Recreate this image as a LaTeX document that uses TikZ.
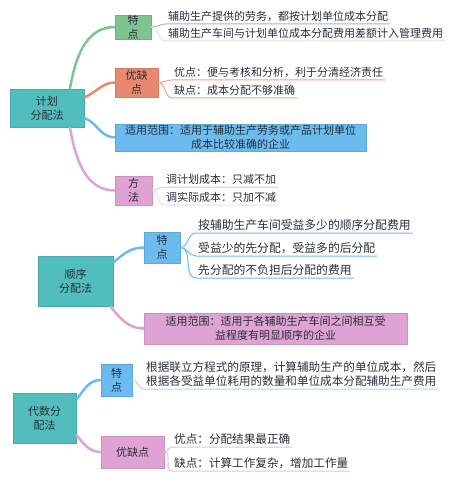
\documentclass[tikz,border=0pt]{standalone}
\usepackage{fontspec}
\setmainfont{Noto Sans CJK SC}
\usepackage{tikz}
\usetikzlibrary{positioning}

\definecolor{rootcol}{HTML}{52BDBD}
\definecolor{greencol}{HTML}{7EC48E}
\definecolor{salmoncol}{HTML}{E8896F}
\definecolor{bluecol}{HTML}{6BBBEE}
\definecolor{pinkcol}{HTML}{DEA3D2}
\definecolor{txtcol}{HTML}{2A2F3A}

\begin{document}
\begin{tikzpicture}[x=1pt, y=-1pt, text=txtcol, font=\fontsize{11}{14}\selectfont,
  root/.style={rectangle, draw=rootcol!90!black, line width=0.4pt, fill=rootcol, align=center, inner sep=0pt},
  sub/.style={rectangle, draw=#1!90!black, line width=0.4pt, fill=#1, align=center, inner sep=0pt},
  leaf/.style={anchor=south west, inner xsep=2pt, inner ysep=2.5pt, align=left},
  branch/.style={draw=#1, line width=2.5pt},
  twig/.style={draw=#1, line width=1pt}]

  \useasboundingbox (0,0) rectangle (449,486);

  % 计划分配法
  \node [root, minimum width=74pt, minimum height=38pt] (plan) at (47,108) {计划\\分配法};
  \node [sub=greencol, minimum width=36pt, minimum height=24pt] (planfeat) at (133,27) {特\\点};
  \node [sub=salmoncol, minimum width=43pt, minimum height=29pt] (planpro) at (136.5,82.5) {优缺\\点};
  \node [sub=bluecol, minimum width=251pt, minimum height=27pt] (planscope) at (240.5,137.5) {适用范围：适用于辅助生产劳务或产品计划单位\\成本比较准确的企业};
  \node [sub=pinkcol, minimum width=37pt, minimum height=29pt] (planway) at (133.5,190.5) {方\\法};

  \node [leaf] (pf1) at (166,24) {辅助生产提供的劳务，都按计划单位成本分配};
  \node [leaf] (pf2) at (166,41) {辅助生产车间与计划单位成本分配费用差额计入管理费用};
  \node [leaf] (pp1) at (172,80) {优点：便与考核和分析，利于分清经济责任};
  \node [leaf] (pp2) at (172,98) {缺点：成本分配不够准确};
  \node [leaf] (pw1) at (164,187) {调计划成本：只减不加};
  \node [leaf] (pw2) at (164,205) {调实际成本：只加不减};

  \path [branch=greencol] (plan.40) to[out=80, in=180] (planfeat.west);
  \path [branch=salmoncol] (plan.16) to[out=20, in=180] (planpro.west);
  \path [branch=bluecol] (plan.-15) to[out=-20, in=180] (planscope.west);
  \path [branch=pinkcol] (plan.-40) to[out=-80, in=180] (planway.west);

  \path [twig=greencol!90] (planfeat.east) to[out=0, in=180] (pf1.south west) -- (pf1.south east);
  \path [twig=greencol!35] (planfeat.east) to[out=0, in=180] (pf2.south west) -- (pf2.south east);
  \path [twig=salmoncol!80] (planpro.east) to[out=0, in=180] (pp1.south west) -- (pp1.south east);
  \path [twig=salmoncol!80] (planpro.east) to[out=0, in=180] (pp2.south west) -- (pp2.south east);
  \path [twig=pinkcol!70] (planway.east) to[out=0, in=180] (pw1.south west) -- (pw1.south east);
  \path [twig=pinkcol!40] (planway.east) to[out=0, in=180] (pw2.south west) -- (pw2.south east);

  % 顺序分配法
  \node [root, minimum width=75pt, minimum height=50pt] (order) at (75.5,281) {顺序\\分配法};
  \node [sub=bluecol, minimum width=36pt, minimum height=31pt] (orderfeat) at (162,247.5) {特\\点};
  \node [sub=pinkcol, minimum width=263pt, minimum height=31pt] (orderscope) at (275.5,328.5) {适用范围：适用于各辅助生产车间之间相互受\\益程度有明显顺序的企业};

  \node [leaf, font=\fontsize{11.8}{14}\selectfont] (of1) at (196,233) {按辅助生产车间受益多少的顺序分配费用};
  \node [leaf, font=\fontsize{11.8}{14}\selectfont] (of2) at (196,256) {受益少的先分配，受益多的后分配};
  \node [leaf, font=\fontsize{11.8}{14}\selectfont] (of3) at (196,278) {先分配的不负担后分配的费用};

  \path [branch=bluecol] (order.26) to[out=40, in=180] (orderfeat.west);
  \path [branch=pinkcol] (order.-36) to[out=-50, in=180] (orderscope.west);

  \path [twig=bluecol] (orderfeat.east) to[out=0, in=180] (of1.south west) -- (of1.south east);
  \path [twig=bluecol] (orderfeat.east) to[out=0, in=180] (of2.south west) -- (of2.south east);
  \path [twig=bluecol] (orderfeat.east) to[out=0, in=180] (of3.south west) -- (of3.south east);

  % 代数分配法
  \node [root, minimum width=63pt, minimum height=50pt] (alg) at (44.5,418) {代数分\\配法};
  \node [sub=bluecol, minimum width=31pt, minimum height=32pt] (algfeat) at (116.5,380) {特\\点};
  \node [sub=pinkcol, minimum width=63pt, minimum height=32pt] (algpro) at (132.5,452) {优缺点};

  \node [leaf, font=\fontsize{11.6}{13.5}\selectfont] (af1) at (144,389) {根据联立方程式的原理，计算辅助生产的单位成本，然后\\根据各受益单位耗用的数量和单位成本分配辅助生产费用};
  \node [leaf, font=\fontsize{11.6}{14}\selectfont] (ap1) at (172,447) {优点：分配结果最正确};
  \node [leaf, font=\fontsize{11.6}{14}\selectfont] (ap2) at (172,471) {缺点：计算工作复杂，增加工作量};

  \path [branch=bluecol] (alg.30) to[out=50, in=180] (algfeat.west);
  \path [branch=pinkcol] (alg.-28) to[out=-50, in=180] (algpro.west);

  \path [twig=bluecol!60] (algfeat.east) to[out=0, in=180] (af1.south west) -- (af1.south east);
  \path [twig=pinkcol!70] (algpro.east) to[out=0, in=180] (ap1.south west) -- (ap1.south east);
  \path [twig=pinkcol!70] (algpro.east) to[out=0, in=180] (ap2.south west) -- (ap2.south east);
\end{tikzpicture}
\end{document}
